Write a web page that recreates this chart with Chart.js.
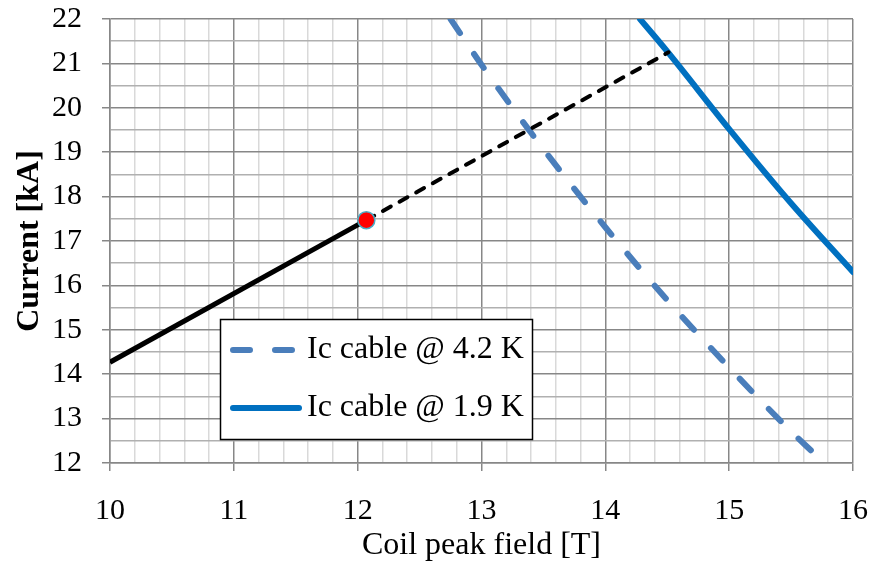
<!DOCTYPE html>
<html>
<head>
<meta charset="utf-8">
<script src="https://cdn.jsdelivr.net/npm/chart.js@4.4.1/dist/chart.umd.min.js"></script>
<style>
  html, body { margin: 0; padding: 0; background: #fff; }
  canvas { display: block; }
</style>
</head>
<body>
<canvas id="icChart" width="871" height="562"></canvas>
<script>
// critical current of the cable at 4.2 K
const field42 = [12.75, 13.0, 13.5, 14.0, 14.5, 15.0, 15.5, 15.7];
const current42 = [22.0, 20.97, 19.07, 17.31, 15.67, 14.15, 12.71, 12.18];

// critical current of the cable at 1.9 K
const field19 = [14.28, 14.5, 15.0, 15.5, 16.0];
const current19 = [22.0, 21.27, 19.52, 17.85, 16.3];

// load line: solid up to the operating point, dashed beyond
const loadField = [10.0, 12.07, 14.51];
const loadCurrent = [14.27, 17.47, 21.25];
const opIndex = 1;

const serif = '"Liberation Serif", "Times New Roman", serif';

const toPoints = (xs, ys) => xs.map((x, i) => ({ x: x, y: ys[i] }));
const isWhole = v => Math.abs(v - Math.round(v)) < 1e-6;

// fixed axis box, no extra room for overhanging labels
const fixBox = size => scale => {
    if (scale.isHorizontal()) scale.height = size; else scale.width = size;
    scale.paddingTop = scale.paddingBottom = scale.paddingLeft = scale.paddingRight = 0;
};

const legendBox = {
    id: 'legendBox',
    afterDraw(chart) {
        const ctx = chart.ctx;
        const items = chart.data.datasets.filter(d => d.label);
        ctx.save();
        ctx.fillStyle = '#fff';
        ctx.fillRect(220.5, 319.5, 312, 120);
        ctx.strokeStyle = '#000';
        ctx.lineWidth = 1.5;
        ctx.strokeRect(220.5, 319.5, 312, 120);
        items.forEach((ds, i) => {
            const y = 350 + i * 58;
            ctx.beginPath();
            ctx.setLineDash(ds.borderDash || []);
            ctx.lineCap = 'round';
            ctx.lineWidth = ds.borderWidth;
            ctx.strokeStyle = ds.borderColor;
            ctx.moveTo(233, y);
            ctx.lineTo(299, y);
            ctx.stroke();
            ctx.setLineDash([]);
            ctx.fillStyle = '#000';
            ctx.font = '32px ' + serif;
            ctx.textBaseline = 'middle';
            ctx.fillText(ds.label, 307, y);
        });
        ctx.restore();
    }
};

const data = {
    datasets: [{
        data: [toPoints(loadField, loadCurrent)[opIndex]],
        showLine: false,
        pointRadius: 8.5,
        pointBorderWidth: 1.5,
        pointBackgroundColor: '#ff0000',
        pointBorderColor: '#4bacc6',
        order: 0,
    }, {
        data: toPoints(loadField.slice(0, opIndex + 1), loadCurrent.slice(0, opIndex + 1)),
        showLine: true,
        borderColor: '#000',
        borderWidth: 5,
        pointRadius: 0,
        order: 1,
    }, {
        data: toPoints(loadField.slice(opIndex), loadCurrent.slice(opIndex)),
        showLine: true,
        borderColor: '#000',
        borderWidth: 4,
        borderDash: [9, 10],
        borderCapStyle: 'round',
        pointRadius: 0,
        order: 1,
    }, {
        label: 'Ic cable @ 4.2 K',
        data: toPoints(field42, current42),
        showLine: true,
        borderColor: '#4a7ebb',
        borderWidth: 6,
        borderDash: [17, 25],
        borderCapStyle: 'round',
        cubicInterpolationMode: 'monotone',
        pointRadius: 0,
        order: 2,
    }, {
        label: 'Ic cable @ 1.9 K',
        data: toPoints(field19, current19),
        showLine: true,
        borderColor: '#0070c0',
        borderWidth: 6,
        borderCapStyle: 'round',
        cubicInterpolationMode: 'monotone',
        pointRadius: 0,
        order: 2,
    }]
};

const options = {
    responsive: false,
    animation: false,
    layout: {
        padding: { top: 19, right: 18, left: 0, bottom: 0 }
    },
    plugins: {
        legend: { display: false },
        tooltip: { enabled: false }
    },
    scales: {
        x: {
            type: 'linear',
            min: 10,
            max: 16,
            afterFit: fixBox(99),
            border: { color: '#878787', width: 1.5 },
            grid: {
                color: c => isWhole(c.tick.value) ? '#878787' : '#d9d9d9',
                lineWidth: 1.5,
                tickLength: 8,
                tickColor: c => isWhole(c.tick.value) ? '#878787' : 'transparent',
            },
            ticks: {
                stepSize: 0.2,
                autoSkip: false,
                maxRotation: 0,
                minRotation: 0,
                padding: 22,
                color: '#000',
                font: { family: serif, size: 30 },
                callback: v => isWhole(v) ? String(Math.round(v)) : '',
            },
            title: {
                display: true,
                text: 'Coil peak field [T]',
                color: '#000',
                font: { family: serif, size: 32, lineHeight: 1 },
                padding: { top: 0, bottom: 0 },
            }
        },
        y: {
            type: 'linear',
            min: 12,
            max: 22,
            afterFit: fixBox(110),
            border: { color: '#878787', width: 1.5 },
            grid: {
                color: c => isWhole(c.tick.value) ? '#878787' : '#b0b0b0',
                lineWidth: 1.5,
                tickLength: 8,
                tickColor: c => isWhole(c.tick.value) ? '#878787' : 'transparent',
            },
            ticks: {
                stepSize: 0.5,
                autoSkip: false,
                padding: 20,
                color: '#000',
                font: { family: serif, size: 30 },
                callback: v => isWhole(v) ? String(Math.round(v)) : '',
            },
            title: {
                display: true,
                text: 'Current [kA]',
                color: '#000',
                font: { family: serif, size: 32, weight: 'bold', lineHeight: 1 },
                padding: { top: 14, bottom: 0 },
            }
        }
    }
};

const icChart = new Chart(document.getElementById('icChart'), {
    type: 'scatter',
    data: data,
    options: options,
    plugins: [legendBox]
});
</script>
</body>
</html>
